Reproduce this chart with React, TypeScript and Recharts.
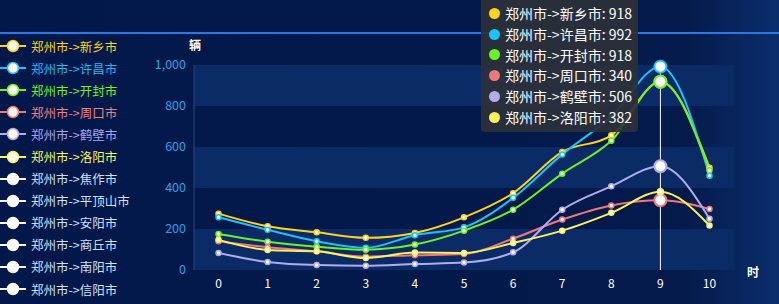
import React from "react";
import {
  LineChart,
  Line,
  XAxis,
  YAxis,
  Tooltip,
  CartesianGrid,
} from "recharts";

const hours = [0, 1, 2, 3, 4, 5, 6, 7, 8, 9, 10];

const xinxiang = [275, 213, 184, 157, 181, 257, 375, 576, 657, 918, 499];
const xuchang = [257, 196, 140, 108, 170, 208, 352, 564, 748, 992, 460];
const kaifeng = [176, 138, 114, 99, 124, 192, 294, 470, 630, 918, 486];
const zhoukou = [140, 111, 91, 65, 72, 78, 153, 246, 315, 340, 298];
const hebi = [83, 39, 24, 21, 29, 36, 86, 294, 408, 506, 250];
const luoyang = [147, 98, 91, 58, 85, 83, 132, 192, 279, 382, 217];

const seriesNames = [
  "郑州市->新乡市",
  "郑州市->许昌市",
  "郑州市->开封市",
  "郑州市->周口市",
  "郑州市->鹤壁市",
  "郑州市->洛阳市",
  "郑州市->焦作市",
  "郑州市->平顶山市",
  "郑州市->安阳市",
  "郑州市->商丘市",
  "郑州市->南阳市",
  "郑州市->信阳市",
];
const seriesValues = [xinxiang, xuchang, kaifeng, zhoukou, hebi, luoyang];
const seriesColors = ["#ffd21e", "#1cc3f4", "#6cf226", "#f07878", "#b1aded", "#fbf35c"];
const legendTextColors = ["#ffd21e", "#22b6ee", "#6cf226", "#f08080", "#a9a6e6", "#fbf55c"];
const yTicks = [0, 200, 400, 600, 800, 1000];

const FONT = "'Noto Sans CJK SC', 'Noto Sans', sans-serif";

const data = hours.map((h, i) => {
  const row: Record<string, number> = { hour: h };
  seriesValues.forEach((vals, s) => {
    row[`s${s}`] = vals[i];
  });
  return row;
});

/* eslint-disable @typescript-eslint/no-explicit-any */
function ChartTooltip({ active, payload }: any) {
  if (!active || !payload?.length) return null;
  return (
    <div
      style={{
        background: "rgba(44,48,58,0.92)",
        borderRadius: 4,
        padding: "9px 6px 4px 8px",
        fontFamily: FONT,
        fontSize: 14,
        color: "#fff",
        whiteSpace: "pre",
      }}
    >
      {payload.map((e: any) => {
        const idx = Number(String(e.dataKey).slice(1));
        return (
          <div key={e.dataKey} style={{ height: 20.8, lineHeight: "20.8px", display: "flex", alignItems: "center" }}>
            <span
              style={{
                display: "inline-block",
                width: 11,
                height: 11,
                borderRadius: "50%",
                background: seriesColors[idx],
                marginRight: 5,
              }}
            />
            {`${seriesNames[idx]}: ${e.value}`}
          </div>
        );
      })}
    </div>
  );
}

function LegendIcon({ color, fill }: { color: string; fill: string }) {
  return (
    <svg width={26} height={14} style={{ display: "block" }}>
      <line x1={0} y1={7} x2={26} y2={7} stroke={color} strokeWidth={2} />
      <circle cx={13} cy={7} r={5.5} fill={fill} stroke={color} strokeWidth={1.5} />
    </svg>
  );
}

export default function App() {
  return (
    <div
      style={{
        position: "relative",
        width: 779,
        height: 304,
        overflow: "hidden",
        background: "linear-gradient(90deg, #03184a 0%, #041a4b 88%, #0b2e6c 100%)",
        fontFamily: FONT,
      }}
    >
      <style>{`body{margin:0}`}</style>
      <div style={{ position: "absolute", left: 0, top: 32, width: 779, height: 2, background: "#2b78e2" }} />

      <div style={{ position: "absolute", left: 0, top: 35 }}>
        {seriesNames.map((name, i) => {
          const active = i < seriesValues.length;
          const c = active ? seriesColors[i] : "#ffffff";
          return (
            <div key={name} style={{ display: "flex", alignItems: "center", height: 22.1 }}>
              <LegendIcon color={c} fill={active ? "#fffbe8" : "#ffffff"} />
              <span style={{ marginLeft: 5, fontSize: 12.5, color: active ? legendTextColors[i] : "#cfe0ff" }}>
                {name}
              </span>
            </div>
          );
        })}
      </div>

      <div style={{ position: "absolute", left: 189, top: 36, fontSize: 12, color: "#fff", fontWeight: 700 }}>辆</div>
      <div style={{ position: "absolute", left: 747, top: 263, fontSize: 12, color: "#fff", fontWeight: 700 }}>时</div>

      <div style={{ position: "absolute", left: 0, top: 0 }}>
        <LineChart width={779} height={304} data={data} margin={{ top: 65, right: 45, bottom: 0, left: 0 }}>
          <CartesianGrid
            vertical={false}
            stroke="none"
            horizontalFill={["#0b2b66", "rgba(0,0,0,0)"]}
            fillOpacity={1}
          />
          <XAxis
            dataKey="hour"
            type="category"
            axisLine={false}
            tickLine={false}
            tickSize={0}
            tickMargin={9}
            height={34}
            padding={{ left: 24.5, right: 24.5 }}
            tick={{ fill: "#ffffff", fontSize: 12, fontFamily: FONT }}
          />
          <YAxis
            domain={[0, 1000]}
            ticks={yTicks}
            width={194}
            axisLine={{ stroke: "#2a4a7c", strokeWidth: 1 }}
            tickLine={false}
            tickSize={0}
            tickMargin={8}
            tickFormatter={(v: number) => v.toLocaleString("en-US")}
            tick={{ fill: "#2aa2e6", fontSize: 12.5, fontFamily: FONT }}
          />
          <Tooltip
            content={<ChartTooltip />}
            defaultIndex={9}
            position={{ x: 481, y: -6 }}
            allowEscapeViewBox={{ x: true, y: true }}
            cursor={{ stroke: "#ffffff", strokeWidth: 1 }}
            isAnimationActive={false}
          />
          {seriesValues.map((_, s) => (
            <Line
              key={s}
              type="monotone"
              dataKey={`s${s}`}
              stroke={seriesColors[s]}
              strokeWidth={2}
              dot={{ r: 2.5, fill: "#ffffff", stroke: seriesColors[s], strokeWidth: 1.5 }}
              activeDot={
                s === 5
                  ? { r: 3, fill: "#ffffff", stroke: seriesColors[s], strokeWidth: 1.5 }
                  : { r: 6, fill: "#ffffff", stroke: seriesColors[s], strokeWidth: 2 }
              }
              isAnimationActive={false}
            />
          ))}
        </LineChart>
      </div>
    </div>
  );
}
